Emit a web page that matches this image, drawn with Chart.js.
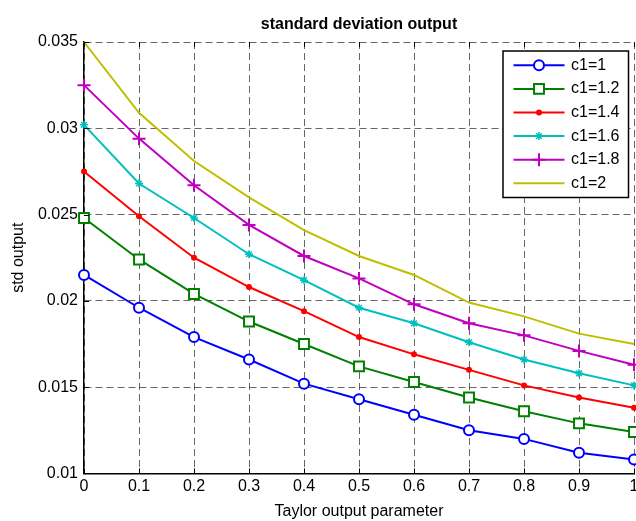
<!DOCTYPE html>
<html>
<head>
<meta charset="utf-8">
<script src="https://cdn.jsdelivr.net/npm/chart.js@4.4.0/dist/chart.umd.min.js"></script>
<style>
    html, body { margin: 0; padding: 0; background: #fff; overflow: hidden; }
    #wrap { width: 700px; height: 521px; }
</style>
</head>
<body>
<div id="wrap"><canvas id="stdChart" width="700" height="521"></canvas></div>
<script>
// taylor output parameter (x) and the std output per c1 value
var xValues = [0, 0.1, 0.2, 0.3, 0.4, 0.5, 0.6, 0.7, 0.8, 0.9, 1];
var xTicks = [0, 0.1, 0.2, 0.3, 0.4, 0.5, 0.6, 0.7, 0.8, 0.9, 1];
var yTicks = [0.01, 0.015, 0.02, 0.025, 0.03, 0.035];
var seriesNames = ["c1=1", "c1=1.2", "c1=1.4", "c1=1.6", "c1=1.8", "c1=2"];

var std_c1_10 = [0.0215, 0.0196, 0.0179, 0.0166, 0.0152, 0.0143, 0.0134, 0.0125, 0.0120, 0.0112, 0.0108];
var std_c1_12 = [0.0248, 0.0224, 0.0204, 0.0188, 0.0175, 0.0162, 0.0153, 0.0144, 0.0136, 0.0129, 0.0124];
var std_c1_14 = [0.0275, 0.0249, 0.0225, 0.0208, 0.0194, 0.0179, 0.0169, 0.0160, 0.0151, 0.0144, 0.0138];
var std_c1_16 = [0.0302, 0.0268, 0.0248, 0.0227, 0.0212, 0.0196, 0.0187, 0.0176, 0.0166, 0.0158, 0.0151];
var std_c1_18 = [0.0325, 0.0294, 0.0267, 0.0244, 0.0226, 0.0213, 0.0198, 0.0187, 0.0180, 0.0171, 0.0163];
var std_c1_20 = [0.0350, 0.0309, 0.0281, 0.0260, 0.0241, 0.0226, 0.0215, 0.0199, 0.0191, 0.0181, 0.0175];

var FONT = "'Liberation Sans', Arial, Helvetica, sans-serif";
Chart.defaults.font.family = FONT;
Chart.defaults.font.size = 16;
Chart.defaults.color = '#000';

function toPoints(values) {
    var pts = [];
    for (var i = 0; i < xValues.length; i++) {
        pts.push({ x: xValues[i], y: values[i] });
    }
    return pts;
}

// marker style per series (matlab: o, s, ., *, +, none)
var styles = [
    { color: '#0000ff', pointStyle: 'circle', radius: 5, pointBorder: 2, fill: '#fff' },
    { color: '#008000', pointStyle: 'rect', radius: 7, pointBorder: 2, fill: '#fff' },
    { color: '#ff0000', pointStyle: 'circle', radius: 3, pointBorder: 0, fill: '#ff0000' },
    { color: '#00bfbf', pointStyle: 'star', radius: 4, pointBorder: 1.5, fill: '#00bfbf' },
    { color: '#bf00bf', pointStyle: 'cross', radius: 6.5, pointBorder: 2, fill: '#bf00bf' },
    { color: '#bfbf00', pointStyle: false, radius: 0, pointBorder: 0, fill: '#bfbf00' }
];
var allSeries = [std_c1_10, std_c1_12, std_c1_14, std_c1_16, std_c1_18, std_c1_20];

var datasets = [];
for (var i = 0; i < allSeries.length; i++) {
    var s = styles[i];
    datasets.push({
        label: seriesNames[i],
        data: toPoints(allSeries[i]),
        borderColor: s.color,
        borderWidth: 2,
        tension: 0,
        fill: false,
        clip: false,
        pointStyle: s.pointStyle,
        pointRadius: s.radius,
        pointHoverRadius: s.radius,
        pointBorderWidth: s.pointBorder,
        pointBorderColor: s.color,
        pointBackgroundColor: s.fill,
        order: allSeries.length - i
    });
}

// legend box with line + marker samples, like the matlab one
var matlabLegend = {
    id: 'matlabLegend',
    afterDatasetsDraw: function (chart) {
        var ctx = chart.ctx;
        var left = 503, top = 51, w = 125.5, h = 146.5;
        ctx.save();
        ctx.fillStyle = '#fff';
        ctx.fillRect(left, top, w, h);
        ctx.lineWidth = 1.5;
        ctx.strokeStyle = '#000';
        ctx.strokeRect(left, top, w, h);
        for (var i = 0; i < chart.data.datasets.length; i++) {
            var ds = chart.data.datasets[i];
            var y = 65.3 + i * 23.6;
            ctx.beginPath();
            ctx.lineWidth = ds.borderWidth;
            ctx.strokeStyle = ds.borderColor;
            ctx.moveTo(513.5, y);
            ctx.lineTo(564.5, y);
            ctx.stroke();
            if (ds.pointStyle) {
                ctx.fillStyle = ds.pointBackgroundColor;
                ctx.strokeStyle = ds.pointBorderColor;
                ctx.lineWidth = ds.pointBorderWidth;
                Chart.helpers.drawPoint(ctx, {
                    pointStyle: ds.pointStyle,
                    radius: ds.pointRadius,
                    rotation: 0,
                    borderWidth: ds.pointBorderWidth
                }, 539, y);
            }
            ctx.fillStyle = '#000';
            ctx.font = '16px ' + FONT;
            ctx.textAlign = 'left';
            ctx.textBaseline = 'middle';
            ctx.fillText(ds.label, 571, y);
        }
        ctx.restore();
    }
};

// small inward tick marks on the axes
var innerTicks = {
    id: 'innerTicks',
    afterDraw: function (chart) {
        var ctx = chart.ctx;
        var a = chart.chartArea;
        var xs = chart.scales.x, ys = chart.scales.y;
        ctx.save();
        ctx.strokeStyle = '#000';
        ctx.lineWidth = 1;
        ctx.beginPath();
        xTicks.forEach(function (v) {
            var px = Math.round(xs.getPixelForValue(v)) + 0.5;
            ctx.moveTo(px, a.bottom);
            ctx.lineTo(px, a.bottom - 5);
            ctx.moveTo(px, a.top);
            ctx.lineTo(px, a.top + 5);
        });
        yTicks.forEach(function (v) {
            var py = Math.round(ys.getPixelForValue(v)) + 0.5;
            ctx.moveTo(a.left, py);
            ctx.lineTo(a.left + 5, py);
        });
        ctx.stroke();
        ctx.restore();
    }
};

var gridStyle = { color: 'rgba(0,0,0,0.6)', lineWidth: 1, drawTicks: false };

var ctx = document.getElementById("stdChart");
var stdChart = new Chart(ctx, {
    type: 'line',
    data: { datasets: datasets },
    plugins: [innerTicks, matlabLegend],
    options: {
        responsive: false,
        animation: false,
        devicePixelRatio: 1,
        layout: { padding: { left: 0, right: 66, top: 0, bottom: 0 } },
        plugins: {
            legend: { display: false },
            tooltip: { enabled: false },
            title: {
                display: true,
                fullSize: false,
                text: 'standard deviation output',
                color: '#000',
                font: { size: 16, weight: 'bold' },
                padding: { top: 15, bottom: 7.8 }
            }
        },
        scales: {
            x: {
                type: 'linear',
                min: 0,
                max: 1,
                afterBuildTicks: function (scale) {
                    scale.ticks = xTicks.map(function (v) { return { value: v }; });
                },
                ticks: {
                    padding: 3.6,
                    maxRotation: 0,
                    autoSkip: false,
                    callback: function (v) { return String(v); }
                },
                grid: gridStyle,
                border: { display: true, color: '#000', width: 1.5, dash: [7, 4] },
                title: {
                    display: true,
                    text: 'Taylor output parameter',
                    font: { size: 16 },
                    padding: { top: 2, bottom: 0 }
                }
            },
            y: {
                type: 'linear',
                min: 0.01,
                max: 0.035,
                afterBuildTicks: function (scale) {
                    scale.ticks = yTicks.map(function (v) { return { value: v }; });
                },
                afterFit: function (scale) {
                    scale.width = 84;
                },
                ticks: {
                    padding: 6,
                    autoSkip: false,
                    callback: function (v) { return String(v); }
                },
                grid: gridStyle,
                border: { display: true, color: '#000', width: 1.5, dash: [7, 4] },
                title: {
                    display: true,
                    text: 'std output',
                    font: { size: 16 },
                    padding: { top: 9, bottom: 0 }
                }
            }
        }
    }
});
</script>
</body>
</html>
